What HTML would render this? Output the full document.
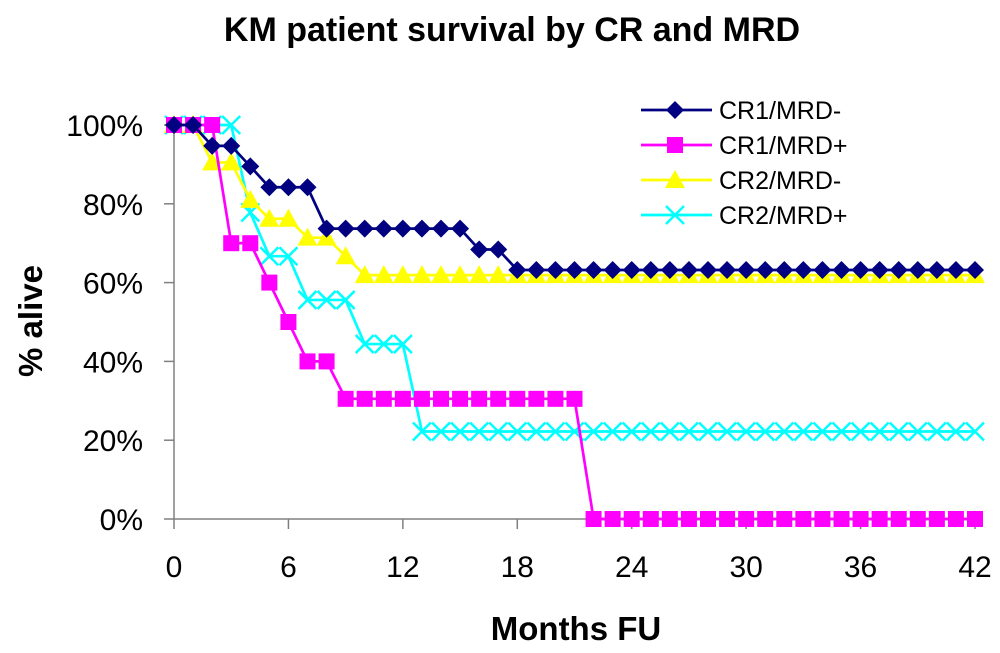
<!DOCTYPE html>
<html><head><meta charset="utf-8"><style>
body{margin:0;background:#fff;}
svg text{font-family:"Liberation Sans",Arial,sans-serif;}
</style></head><body>
<svg id="chart" width="1000" height="648" xmlns="http://www.w3.org/2000/svg">
<text x="512" y="41" text-anchor="middle" font-size="34" font-weight="bold">KM patient survival by CR and MRD</text>
<text transform="translate(42,321) rotate(-90)" text-anchor="middle" font-size="33" font-weight="bold">% alive</text>
<text x="576" y="640" text-anchor="middle" font-size="33" font-weight="bold">Months FU</text>
<g id="axes"></g>
<g id="series"></g>
<g id="legend"></g>
</svg>
<script>
const months = Array.from({length:43},(_, i)=>i);
const cr1Neg = [100,100,94.7,94.7,89.5,84.2,84.2,84.2,73.7,73.7,73.7,73.7,73.7,73.7,73.7,73.7,68.4,68.4,63.2,63.2,63.2,63.2,63.2,63.2,63.2,63.2,63.2,63.2,63.2,63.2,63.2,63.2,63.2,63.2,63.2,63.2,63.2,63.2,63.2,63.2,63.2,63.2,63.2];
const cr1Pos = [100,100,100,70,70,60,50,40,40,30.5,30.5,30.5,30.5,30.5,30.5,30.5,30.5,30.5,30.5,30.5,30.5,30.5,0,0,0,0,0,0,0,0,0,0,0,0,0,0,0,0,0,0,0,0,0];
const cr2Neg = [100,100,90.5,90.5,81,76.2,76.2,71.4,71.4,66.7,61.9,61.9,61.9,61.9,61.9,61.9,61.9,61.9,61.9,61.9,61.9,61.9,61.9,61.9,61.9,61.9,61.9,61.9,61.9,61.9,61.9,61.9,61.9,61.9,61.9,61.9,61.9,61.9,61.9,61.9,61.9,61.9,61.9];
const cr2Pos = [100,100,100,100,77.8,66.7,66.7,55.6,55.6,55.6,44.4,44.4,44.4,22.2,22.2,22.2,22.2,22.2,22.2,22.2,22.2,22.2,22.2,22.2,22.2,22.2,22.2,22.2,22.2,22.2,22.2,22.2,22.2,22.2,22.2,22.2,22.2,22.2,22.2,22.2,22.2,22.2,22.2];
const xTicks = [0,6,12,18,24,30,36,42];
const yTicks = [0,20,40,60,80,100];
const seriesNames = ["CR1/MRD-","CR1/MRD+","CR2/MRD-","CR2/MRD+"];

const NS="http://www.w3.org/2000/svg";
const X0=174,X1=975,Y0=519,Y1=125;
const xs=m=>X0+(m/42)*(X1-X0);
const ys=v=>Y0-(v/100)*(Y0-Y1);
function mk(tag,attrs,parent){const e=document.createElementNS(NS,tag);for(const k in attrs)e.setAttribute(k,attrs[k]);parent.appendChild(e);return e;}
const axes=document.getElementById('axes');
let yl=mk('line',{x1:X0,y1:Y1,x2:X0,y2:Y0,stroke:'#808080','stroke-width':1.5},axes);


let xl=mk('line',{x1:X0,y1:Y0,x2:X1,y2:Y0,stroke:'#808080','stroke-width':1.5},axes);


yTicks.forEach(v=>{
  mk('line',{x1:X0-10,y1:ys(v),x2:X0,y2:ys(v),stroke:'#808080','stroke-width':1.5},axes);
  const t=mk('text',{x:X0-31,y:ys(v)+11,'text-anchor':'end','font-size':30},axes);
  t.textContent=v+'%';
  
  
});
xTicks.forEach(m=>{
  mk('line',{x1:xs(m),y1:Y0,x2:xs(m),y2:Y0+10,stroke:'#808080','stroke-width':1.5},axes);
  const t=mk('text',{x:xs(m),y:Y0+58,'text-anchor':'middle','font-size':30},axes);
  t.textContent=m;
  
  
});
const colors=['#000080','#FF00FF','#FFFF00','#00FFFF'];
const kinds=['diamond','square','triangle','x'];
function marker(kind,x,y,c,p){
  if(kind==='diamond')return mk('polygon',{points:`${x},${y-9} ${x+9},${y} ${x},${y+9} ${x-9},${y}`,fill:c},p);
  if(kind==='square')return mk('rect',{x:x-8,y:y-8,width:16,height:16,fill:c},p);
  if(kind==='triangle')return mk('polygon',{points:`${x},${y-10} ${x+10},${y+8} ${x-10},${y+8}`,fill:c},p);
  const g=mk('g',{},p);
  mk('line',{x1:x-9,y1:y-9,x2:x+9,y2:y+9,stroke:c,'stroke-width':2.5},g);
  mk('line',{x1:x-9,y1:y+9,x2:x+9,y2:y-9,stroke:c,'stroke-width':2.5},g);
  return g;
}
const sg=document.getElementById('series');
const data=[cr1Neg,cr1Pos,cr2Neg,cr2Pos];
const slugs=['series-cr1-mrd-neg','series-cr1-mrd-pos','series-cr2-mrd-neg','series-cr2-mrd-pos'];
const order=[3,2,1,0];
order.forEach(i=>{
  const g=mk('g',{},sg);
  
  
  const pts=data[i].map((v,k)=>xs(months[k])+','+ys(v)).join(' ');
  mk('polyline',{points:pts,fill:'none',stroke:colors[i],'stroke-width':2.7},g);
  data[i].forEach((v,k)=>{
    const m=marker(kinds[i],xs(months[k]),ys(v),colors[i],g);
    
    
  });
});
const lg=document.getElementById('legend');
const legY=[110,145,180,215];
seriesNames.forEach((n,i)=>{
  const g=mk('g',{},lg);
  
  
  mk('line',{x1:641,y1:legY[i],x2:712,y2:legY[i],stroke:colors[i],'stroke-width':2.7},g);
  marker(kinds[i],675,legY[i],colors[i],g);
  const t=mk('text',{x:719,y:legY[i]+9,'font-size':25},g);
  t.textContent=n;
});
</script>
</body></html>
